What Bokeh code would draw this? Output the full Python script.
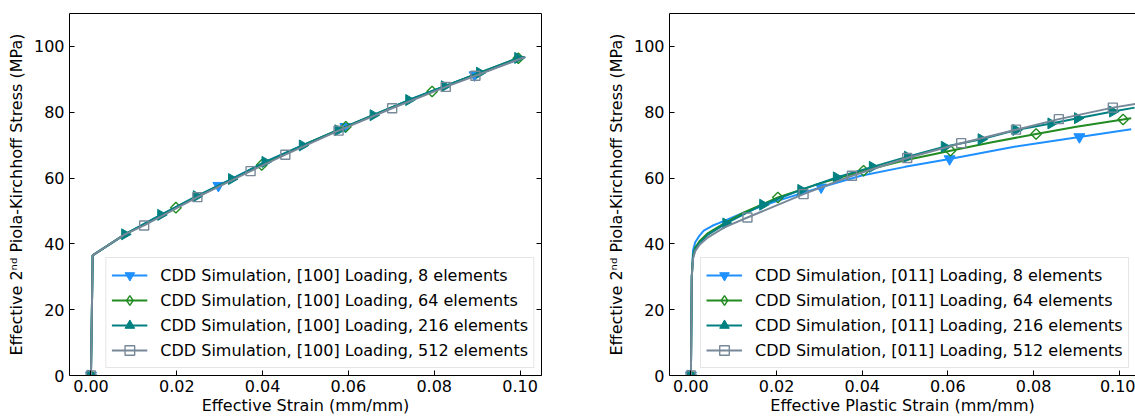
import math
from bokeh.plotting import figure
from bokeh.layouts import row
from bokeh.models import (Range1d, FixedTicker, PrintfTickFormatter, LinearAxis,
                          Legend, LegendItem)
from bokeh.embed import file_html
from bokeh.resources import INLINE

FONT = "DejaVu Sans"

X_TICKS = [0.0, 0.02, 0.04, 0.06, 0.08, 0.10]
Y_TICKS = [0, 20, 40, 60, 80, 100]

SERIES_NAMES = ["8 elements", "64 elements", "216 elements", "512 elements"]
COLORS = ["#1e90ff", "#228b22", "#008080", "#778899"]
Y_LABEL = "Effective 2\u207f\u1d48 Piola-Kirchhoff Stress (MPa)"

# ---------------- [100] loading (left) ----------------
L8_x = [0.0, 0.0004, 0.0079, 0.0163, 0.0297, 0.0406, 0.0493, 0.0593, 0.0741, 0.0894, 0.1012]
L8_y = [0.0, 36.5, 42.9, 48.8, 57.7, 64.9, 69.9, 75.6, 83.7, 91.3, 96.8]
L8_mx = [0.0, 0.0297, 0.0593, 0.0894]
L8_my = [0.0, 57.7, 75.6, 91.3]

L64_x = [0.0, 0.0004, 0.0079, 0.0198, 0.0300, 0.0398, 0.0493, 0.0594, 0.0700, 0.0795, 0.0906, 0.0996, 0.1012]
L64_y = [0.0, 36.5, 42.9, 51.0, 57.8, 64.0, 69.9, 75.6, 81.4, 86.3, 92.0, 96.4, 96.8]
L64_mx = [0.0, 0.0198, 0.0398, 0.0594, 0.0795, 0.0996]
L64_my = [0.0, 51.0, 64.0, 75.6, 86.3, 96.4]

L216_x = [0.0, 0.0004, 0.0079, 0.0163, 0.0246, 0.0328, 0.0406, 0.0493, 0.0576, 0.0658, 0.0741, 0.0824, 0.0906, 0.0995, 0.1012]
L216_y = [0.0, 36.5, 42.9, 48.8, 54.5, 59.7, 64.9, 69.9, 74.5, 79.1, 83.7, 87.9, 92.0, 96.5, 96.8]
L216_mx = [0.0, 0.0079, 0.0163, 0.0246, 0.0328, 0.0406, 0.0493, 0.0576, 0.0658, 0.0741, 0.0824, 0.0906, 0.0995]
L216_my = [0.0, 42.9, 48.8, 54.5, 59.7, 64.9, 69.9, 74.5, 79.1, 83.7, 87.9, 92.0, 96.5]

L512_x = [0.0, 0.0004, 0.0079, 0.0124, 0.0248, 0.0372, 0.0453, 0.0577, 0.0702, 0.0827, 0.0896, 0.1012]
L512_y = [0.0, 36.5, 42.9, 45.6, 54.2, 62.1, 67.1, 74.4, 81.2, 87.7, 91.1, 96.8]
L512_mx = [0.0, 0.0124, 0.0248, 0.0372, 0.0453, 0.0577, 0.0702, 0.0827, 0.0896]
L512_my = [0.0, 45.6, 54.2, 62.1, 67.1, 74.4, 81.2, 87.7, 91.1]

# ---------------- [011] loading (right) ----------------
R8_x = [0.0, 0.0002, 0.0005, 0.001, 0.002, 0.003, 0.005, 0.0078, 0.012, 0.020, 0.0304, 0.0397, 0.050, 0.0604, 0.0755, 0.0907, 0.1028]
R8_y = [0.0, 30.0, 38.0, 40.5, 42.5, 44.0, 45.5, 47.0, 49.3, 53.0, 57.2, 60.7, 63.4, 65.8, 69.5, 72.5, 74.8]
R8_mx = [0.0, 0.0304, 0.0604, 0.0907]
R8_my = [0.0, 57.2, 65.8, 72.5]

R64_x = [0.0, 0.0002, 0.0005, 0.001, 0.002, 0.004, 0.0078, 0.012, 0.0203, 0.030, 0.0403, 0.050, 0.0606, 0.070, 0.0806, 0.090, 0.1009, 0.1028]
R64_y = [0.0, 30.0, 36.5, 38.9, 40.8, 43.3, 46.2, 49.3, 54.1, 58.3, 62.2, 65.4, 68.3, 70.8, 73.4, 75.6, 77.8, 78.2]
R64_mx = [0.0, 0.0203, 0.0403, 0.0606, 0.0806, 0.1009]
R64_my = [0.0, 54.1, 62.2, 68.3, 73.4, 77.8]

R216_x = [0.0, 0.0002, 0.0005, 0.001, 0.002, 0.004, 0.0082, 0.0168, 0.0257, 0.0340, 0.0424, 0.0506, 0.0592, 0.0678, 0.0759, 0.0841, 0.0903, 0.0985, 0.1036]
R216_y = [0.0, 30.0, 36.0, 38.3, 40.3, 42.8, 46.2, 51.9, 56.4, 60.2, 63.4, 66.5, 69.5, 71.8, 74.6, 76.6, 78.2, 80.2, 81.4]
R216_mx = [0.0, 0.0082, 0.0168, 0.0257, 0.0340, 0.0424, 0.0506, 0.0592, 0.0678, 0.0759, 0.0841, 0.0903, 0.0985]
R216_my = [0.0, 46.2, 51.9, 56.4, 60.2, 63.4, 66.5, 69.5, 71.8, 74.6, 76.6, 78.2, 80.2]

R512_x = [0.0, 0.0002, 0.0005, 0.001, 0.002, 0.004, 0.0078, 0.0132, 0.0263, 0.0376, 0.0505, 0.0631, 0.0759, 0.0859, 0.0985, 0.1040]
R512_y = [0.0, 30.0, 35.5, 37.8, 39.7, 42.0, 45.0, 48.0, 55.1, 60.7, 66.1, 70.6, 74.7, 77.9, 81.4, 82.6]
R512_mx = [0.0, 0.0132, 0.0263, 0.0376, 0.0505, 0.0631, 0.0759, 0.0859, 0.0985]
R512_my = [0.0, 48.0, 55.1, 60.7, 66.1, 70.6, 74.7, 77.9, 81.4]

LEFT = [(L8_x, L8_y, L8_mx, L8_my), (L64_x, L64_y, L64_mx, L64_my),
        (L216_x, L216_y, L216_mx, L216_my), (L512_x, L512_y, L512_mx, L512_my)]
RIGHT = [(R8_x, R8_y, R8_mx, R8_my), (R64_x, R64_y, R64_mx, R64_my),
         (R216_x, R216_y, R216_mx, R216_my), (R512_x, R512_y, R512_mx, R512_my)]

FIG_H = 417


def add_markers(p, i, mx, my, color):
    """Returns (visible marker renderer, renderer used for the legend)."""
    if i == 0:
        r = p.scatter(mx, my, marker="inverted_triangle", size=11, fill_color=color,
                      line_color=color, line_width=1)
        return r, r
    if i == 1:
        r = p.scatter(mx, my, marker="square", size=7.5, angle=math.pi / 4,
                      fill_color=None, line_color=color, line_width=1.4)
        leg = p.scatter(mx, my, marker="diamond", size=12, fill_color=None,
                        line_color=color, line_width=1.4, visible=False)
        return r, leg
    if i == 2:
        r = p.scatter(mx, my, marker="triangle", size=11, angle=-math.pi / 2,
                      fill_color=color, line_color=color, line_width=1)
        return r, r
    r = p.scatter(mx, my, marker="square", size=9, fill_color=None,
                  line_color=color, line_width=1.4)
    return r, r


def make_panel(width, min_left, min_right, x_end, xlabel, orient, data, legend_loc, right_ticks):
    p = figure(width=width, height=FIG_H, output_backend="svg", toolbar_location=None,
               x_range=Range1d(-0.005, x_end), y_range=Range1d(0, 110),
               min_border_left=min_left, min_border_right=min_right,
               min_border_top=13, min_border_bottom=0)
    p.grid.visible = False
    p.outline_line_color = None
    p.background_fill_color = "white"
    p.border_fill_color = "white"

    for ax in (p.xaxis[0], p.yaxis[0]):
        ax.axis_line_color = "black"
        ax.axis_line_width = 1
        ax.major_tick_line_color = "black"
        ax.major_tick_in = 5
        ax.major_tick_out = 0
        ax.minor_tick_in = 0
        ax.minor_tick_out = 0
        ax.major_label_text_font = FONT
        ax.major_label_text_font_size = "16px"
        ax.major_label_text_color = "black"
        ax.axis_label_text_font = FONT
        ax.axis_label_text_font_size = "16px"
        ax.axis_label_text_font_style = "normal"
        ax.axis_label_text_color = "black"
    p.xaxis[0].ticker = FixedTicker(ticks=X_TICKS)
    p.xaxis[0].formatter = PrintfTickFormatter(format="%.2f")
    p.xaxis[0].major_label_standoff = 4
    p.xaxis[0].axis_label = xlabel
    p.xaxis[0].axis_label_standoff = 1
    p.yaxis[0].ticker = FixedTicker(ticks=Y_TICKS)
    p.yaxis[0].major_label_standoff = 5
    p.yaxis[0].axis_label = Y_LABEL
    p.yaxis[0].axis_label_standoff = 5

    top = LinearAxis(ticker=FixedTicker(ticks=[]), axis_line_color="black", axis_line_width=1,
                     major_tick_in=0, major_tick_out=0, minor_tick_in=0, minor_tick_out=0,
                     major_label_text_font_size="1px", major_label_standoff=0)
    p.add_layout(top, "above")
    if right_ticks:
        rax = LinearAxis(ticker=FixedTicker(ticks=Y_TICKS), axis_line_color="black", axis_line_width=1,
                         major_tick_line_color="black", major_tick_in=5, major_tick_out=0,
                         minor_tick_in=0, minor_tick_out=0,
                         major_label_overrides={t: "" for t in Y_TICKS},
                         major_label_text_font_size="1px", major_label_standoff=0)
        p.add_layout(rax, "right")

    items = []
    for i, (lx, ly, mx, my) in enumerate(data):
        c = COLORS[i]
        ln = p.line(lx, ly, line_color=c, line_width=2)
        sc, leg_r = add_markers(p, i, mx, my, c)
        items.append(LegendItem(label="CDD Simulation, [%s] Loading, %s" % (orient, SERIES_NAMES[i]),
                                renderers=[ln, leg_r]))

    leg = Legend(items=items, location=legend_loc, margin=7, padding=5, spacing=1,
                 glyph_width=36, glyph_height=24, label_height=19, label_standoff=13,
                 label_text_font=FONT, label_text_font_size="16px", label_text_color="black",
                 border_line_color="#cccccc", border_line_width=1,
                 background_fill_color="white", background_fill_alpha=0.8)
    p.add_layout(leg)
    return p


p1 = make_panel(558, 69, 17, 0.105, "Effective Strain (mm/mm)", "100", LEFT, "bottom_right", True)
p2 = make_panel(577, 111, 0, 0.1038, "Effective Plastic Strain (mm/mm)", "011", RIGHT, (31, 7), False)

layout = row(p1, p2)
open("out.html", "w").write(file_html(layout, INLINE))
